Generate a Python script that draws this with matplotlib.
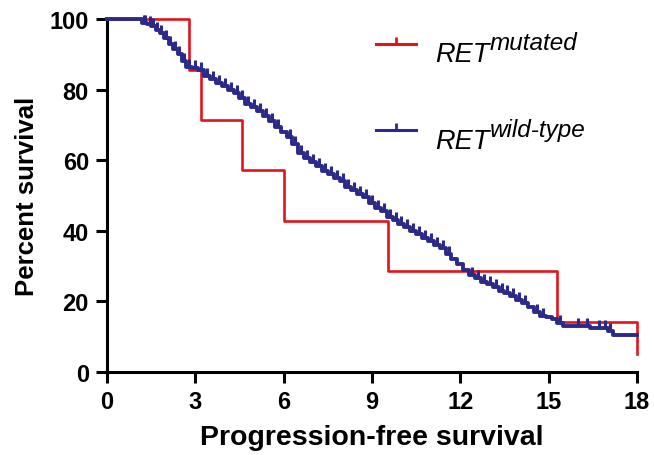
import numpy as np
import matplotlib
matplotlib.use("Agg")
import matplotlib.pyplot as plt

plt.rcParams['font.family'] = ['Liberation Sans', 'DejaVu Sans']

# RET mutated (step times and survival %)
mut_times = [0, 2.77, 3.2, 4.6, 6.0, 9.55, 15.3, 18.0]
mut_surv = [100, 85.7, 71.4, 57.1, 42.9, 28.6, 14.3, 5.0]

# RET wild-type (step times and survival %)
wt_times = [0, 1.2, 1.35, 1.5, 1.65, 1.8, 1.95, 2.1, 2.25, 2.4, 2.55, 2.7, 2.9,
            3.1, 3.3, 3.5, 3.7, 3.9, 4.1, 4.3, 4.5, 4.7, 4.9, 5.1, 5.3, 5.5,
            5.7, 5.9, 6.1, 6.3, 6.5, 6.7, 6.9, 7.1, 7.3, 7.5, 7.7, 7.9, 8.1,
            8.3, 8.5, 8.7, 8.9, 9.1, 9.3, 9.5, 9.7, 9.9, 10.1, 10.3, 10.5,
            10.7, 10.9, 11.1, 11.3, 11.5, 11.7, 11.9, 12.1, 12.3, 12.5, 12.7,
            12.9, 13.1, 13.3, 13.5, 13.7, 13.9, 14.1, 14.3, 14.5, 14.7, 14.9,
            15.1, 15.3, 15.5, 16.4, 17.0, 17.2, 18.0]
wt_surv = [100, 99, 98.5, 98, 97, 96, 94.5, 93, 91.5, 90, 88, 86.5, 86,
           85.5, 84, 83, 82, 81, 80, 79, 77.5, 76, 75, 74, 72.5, 71,
           69.5, 68, 66.5, 64.5, 62, 60.5, 59.5, 58.5, 57, 56, 55, 54, 52.5,
           51.5, 50.5, 49.5, 48, 46.5, 45.5, 44, 43, 42, 41, 40, 39,
           38, 37, 36, 35, 33.5, 32, 30.5, 29, 27.5, 26.5, 25.5,
           25, 24, 23, 22.5, 21.5, 20.5, 19.5, 18.5, 17, 16, 15.5,
           15, 14, 13, 12.5, 11.5, 10.5, 10.5]

# censored observations (months) on the wild-type curve
wt_censor = [1.25, 1.3, 1.45, 1.55, 1.7, 1.85, 2.0, 2.15, 2.3, 2.45, 2.6, 2.8,
             3.0, 3.2, 3.4, 3.6, 3.8, 4.0, 4.2, 4.4, 4.6, 4.8, 5.0, 5.2, 5.4,
             5.6, 5.8, 6.2, 6.4, 6.6, 6.8, 7.0, 7.2, 7.4, 7.6, 7.8, 8.0, 8.2,
             8.4, 8.6, 8.8, 9.0, 9.2, 9.4, 9.6, 9.8, 10.0, 10.2, 10.4, 10.6,
             10.8, 11.0, 11.2, 11.4, 11.6, 12.4, 12.6, 12.8, 13.0, 13.2, 13.4,
             13.6, 13.8, 14.0, 14.2, 14.6, 14.8, 15.4, 16.0, 16.3, 16.7,
             16.9, 17.1]

red = '#e3131b'
blue = '#2b2a8a'

fig = plt.figure(figsize=(6.54, 4.56), dpi=100)
ax = fig.add_axes([0.1636, 0.182, 0.8104, 0.774])

ax.step(mut_times, mut_surv, where='post', color=red, lw=1.9, clip_on=False, zorder=2)
ax.step(wt_times, wt_surv, where='post', color=blue, lw=2.8, clip_on=False, zorder=3)

# censor ticks
idx = np.searchsorted(wt_times, wt_censor, side='right') - 1
cens_y = np.array(wt_surv)[idx]
ax.plot(wt_censor, cens_y, ls='none', marker=2, ms=6, mew=2.2, color=blue,
        clip_on=False, zorder=3)

ax.set_xlim(0, 18)
ax.set_ylim(0, 100)
ax.set_xticks([0, 3, 6, 9, 12, 15, 18])
ax.set_yticks([0, 20, 40, 60, 80, 100])
for s in ['top', 'right']:
    ax.spines[s].set_visible(False)
for s in ['left', 'bottom']:
    ax.spines[s].set_linewidth(2.2)
ax.tick_params(width=2.2, length=8, labelsize=17, pad=5)
for lab in ax.get_xticklabels() + ax.get_yticklabels():
    lab.set_fontweight('bold')
ax.set_xlabel('Progression-free survival', fontsize=20.5, fontweight='bold')
ax.set_ylabel('Percent survival', fontsize=18.5, fontweight='bold')
ax.xaxis.set_label_coords(0.5, -0.148)
ax.yaxis.set_label_coords(-0.128, 0.5)

# legend drawn by hand
entries = [(red, 'mutated', 0.9), (blue, 'wild-type', 0.655)]
for col, sup, yy in entries:
    ax.plot([0.508, 0.583], [yy + 0.03, yy + 0.03], color=col, lw=2.2,
            transform=ax.transAxes, clip_on=False)
    ax.plot([0.545], [yy + 0.03], marker=2, ms=5, mew=2, color=col,
            transform=ax.transAxes, clip_on=False)
    t = ax.text(0.62, yy, 'RET', fontsize=19.5, style='italic',
                transform=ax.transAxes, va='center', ha='left')
    ax.annotate(sup, xy=(1.0, 0.5), xycoords=t, fontsize=17.5, style='italic',
                va='bottom', ha='left')

fig.savefig('out.png', dpi=100)
